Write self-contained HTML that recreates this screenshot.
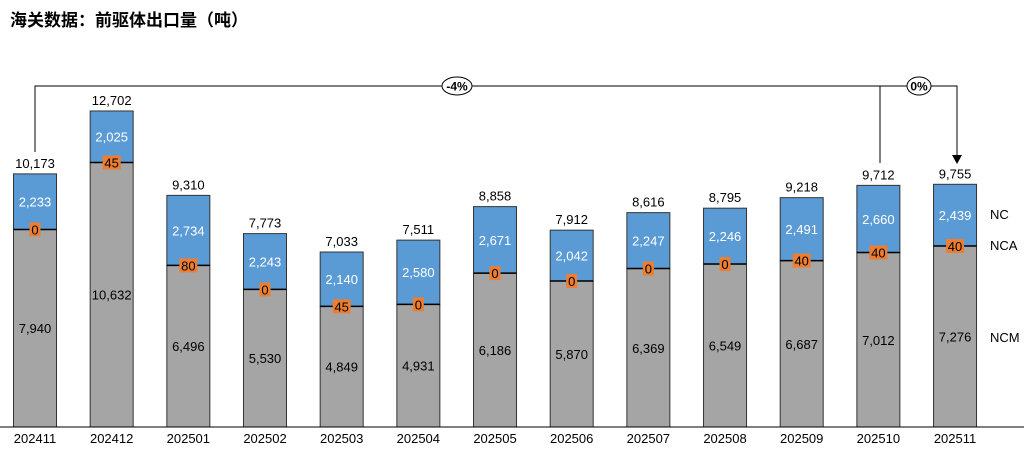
<!DOCTYPE html>
<html><head><meta charset="utf-8"><style>
body{margin:0;background:#fff;}
svg{display:block;font-family:"Liberation Sans","Noto Sans CJK SC",sans-serif;}
</style></head><body>
<svg width="1024" height="449" viewBox="0 0 1024 449" xmlns="http://www.w3.org/2000/svg">
<text x="10" y="26" font-size="17" font-weight="bold" fill="#000" font-family="'Liberation Sans','Noto Sans CJK SC',sans-serif">海关数据：前驱体出口量（吨）</text>
<g id="bars"></g>
<line x1="0" y1="427" x2="1024" y2="427" stroke="#000" stroke-width="1"/>
<!-- brackets -->
<polyline points="35,152 35,86 957,86 957,155" fill="none" stroke="#000" stroke-width="1"/>
<line x1="880" y1="86" x2="880" y2="163" stroke="#000" stroke-width="1"/>
<polygon points="952,155 962,155 957,164" fill="#000"/>
<ellipse cx="457" cy="86" rx="15" ry="9" fill="#fff" stroke="#000"/>
<text x="457" y="90.5" font-size="12" font-weight="bold" text-anchor="middle">-4%</text>
<ellipse cx="919" cy="86" rx="12" ry="9" fill="#fff" stroke="#000"/>
<text x="919" y="90.5" font-size="12" font-weight="bold" text-anchor="middle">0%</text>
<text x="990" y="219" font-size="13">NC</text>
<text x="990" y="250" font-size="13">NCA</text>
<text x="990" y="342" font-size="13">NCM</text>
</svg>
<script>
const d=[["202411",10173,2233,0,7940],["202412",12702,2025,45,10632],["202501",9310,2734,80,6496],["202502",7773,2243,0,5530],["202503",7033,2140,45,4849],["202504",7511,2580,0,4931],["202505",8858,2671,0,6186],["202506",7912,2042,0,5870],["202507",8616,2247,0,6369],["202508",8795,2246,0,6549],["202509",9218,2491,40,6687],["202510",9712,2660,40,7012],["202511",9755,2439,40,7276]];
const s=0.02488,B=427,W=43;let h="";
const f=n=>n.toLocaleString("en-US");
d.forEach((r,i)=>{const cx=35+i*76.67,x=cx-W/2;
const yg=B-r[4]*s,yt=B-r[1]*s;
h+=`<rect x="${x}" y="${yg}" width="${W}" height="${B-yg}" fill="#A5A5A5" stroke="#333" stroke-width="1"/>`;
h+=`<rect x="${x}" y="${yt}" width="${W}" height="${yg-yt}" fill="#5B9BD5" stroke="#333" stroke-width="1"/>`;
h+=`<line x1="${x}" y1="${yg}" x2="${x+W}" y2="${yg}" stroke="#000" stroke-width="1.5"/>`;
h+=`<text x="${cx}" y="${yt-6}" font-size="13" text-anchor="middle">${f(r[1])}</text>`;
h+=`<text x="${cx}" y="${(yt+yg)/2+5}" font-size="13" fill="#fff" text-anchor="middle">${f(r[2])}</text>`;
h+=`<text x="${cx}" y="${(yg+B)/2+5}" font-size="13" text-anchor="middle">${f(r[4])}</text>`;
const t=String(r[3]),bw=t.length>1?18:11;
h+=`<rect x="${cx-bw/2}" y="${yg-7}" width="${bw}" height="14" fill="#ED7D31"/>`;
h+=`<text x="${cx}" y="${yg+5}" font-size="13" text-anchor="middle">${t}</text>`;
h+=`<text x="${cx}" y="443" font-size="13" text-anchor="middle">${r[0]}</text>`;});
document.getElementById("bars").innerHTML=h;
</script>
</body></html>
